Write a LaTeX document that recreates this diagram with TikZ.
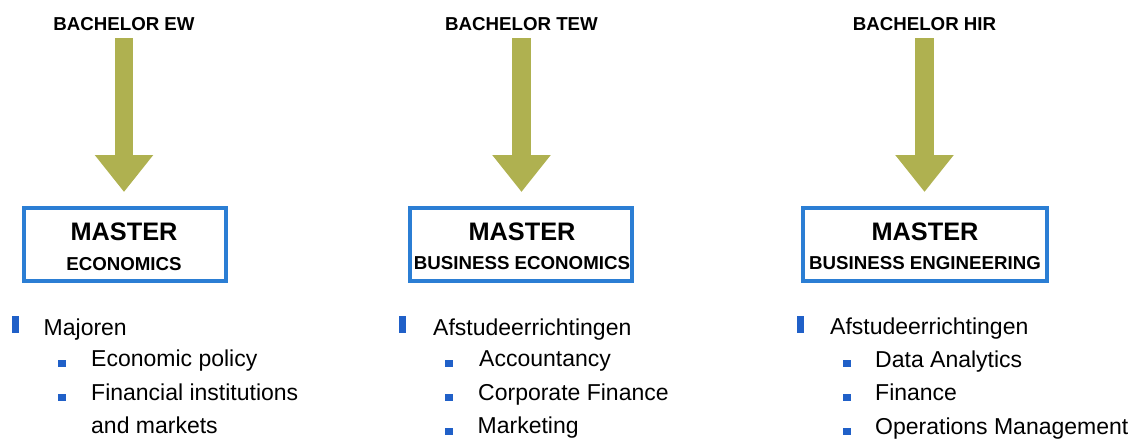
\documentclass[tikz,border=0pt]{standalone}
\usepackage{fontspec}
\setmainfont{Liberation Sans}
\usetikzlibrary{arrows.meta}
\definecolor{olivearrow}{RGB}{175,177,80}
\definecolor{boxblue}{RGB}{43,126,212}
\definecolor{bulletblue}{RGB}{32,96,200}
\begin{document}
\begin{tikzpicture}[x=1pt,y=-1pt,
  bachlabel/.style={inner sep=0pt,anchor=base,font=\fontsize{18.7}{20}\selectfont\bfseries},
  mastertitle/.style={inner sep=0pt,anchor=base,font=\fontsize{25.3}{28}\selectfont\bfseries},
  mastersub/.style={inner sep=0pt,anchor=base,font=\fontsize{18.7}{20}\selectfont\bfseries},
  masterbox/.style={draw=boxblue,line width=4pt,fill=white,minimum height=73pt,inner sep=0pt},
  bigarrow/.style={draw=olivearrow,line width=18.5pt,-{Triangle[width=56pt,length=37pt,fill=olivearrow]}},
  listtext/.style={inner sep=0pt,anchor=base west,font=\fontsize{23}{26}\selectfont},
  mainbullet/.style={fill=bulletblue,inner sep=0pt,minimum width=7pt,minimum height=17pt,anchor=north west},
  subbullet/.style={fill=bulletblue,inner sep=0pt,minimum width=7.5pt,minimum height=7pt,anchor=south west}
]
\useasboundingbox (0,0) rectangle (1147,440);

% ---------- Column 1 ----------
\node[bachlabel] (b1) at (124,30.5) {BACHELOR EW};
\node[masterbox,minimum width=202pt] (m1) at (125,244.5) {};
\draw[bigarrow] ([yshift=-7.5pt]b1.south) -- ([yshift=14pt]m1.north -| b1.south);
\node[mastertitle] (t1) at (124,240) {MASTER};
\node[mastersub] (s1) at (124,270) {ECONOMICS};

\node[mainbullet] (l1b) at (12,316) {};
\node[listtext] (l1) at (43.5,335) {Majoren};
\node[subbullet] (l1ab) at (58,367.5) {};
\node[listtext] (l1a) at (91,366) {Economic policy};
\node[subbullet] (l1bb) at (58,401.5) {};
\node[listtext] (l1bt) at (91,400) {Financial institutions};
\node[listtext] (l1c) at (91,433) {and markets};

% ---------- Column 2 ----------
\node[bachlabel] (b2) at (521.5,30.5) {BACHELOR TEW};
\node[masterbox,minimum width=222pt] (m2) at (521,244.5) {};
\draw[bigarrow] ([yshift=-7.5pt]b2.south) -- ([yshift=14pt]m2.north -| b2.south);
\node[mastertitle] (t2) at (522,240) {MASTER};
\node[mastersub] (s2) at (522,269.5) {BUSINESS ECONOMICS};

\node[mainbullet] (l2b) at (399,316) {};
\node[listtext] (l2) at (433,335) {Afstudeerrichtingen};
\node[subbullet] (l2ab) at (445,367.5) {};
\node[listtext] (l2a) at (479,366) {Accountancy};
\node[subbullet] (l2bb) at (445,401.5) {};
\node[listtext] (l2bt) at (478,400) {Corporate Finance};
\node[subbullet] (l2cb) at (445,435) {};
\node[listtext] (l2c) at (477.5,433.5) {Marketing};

% ---------- Column 3 ----------
\node[bachlabel] (b3) at (924.5,30.5) {BACHELOR HIR};
\node[masterbox,minimum width=244pt] (m3) at (925,244.5) {};
\draw[bigarrow] ([yshift=-7.5pt]b3.south) -- ([yshift=14pt]m3.north -| b3.south);
\node[mastertitle] (t3) at (925,240) {MASTER};
\node[mastersub] (s3) at (925,269.5) {BUSINESS ENGINEERING};

\node[mainbullet] (l3b) at (796.5,316) {};
\node[listtext] (l3) at (830,334) {Afstudeerrichtingen};
\node[subbullet] (l3ab) at (843,367.5) {};
\node[listtext] (l3a) at (875,367) {Data Analytics};
\node[subbullet] (l3bb) at (843,401.5) {};
\node[listtext] (l3bt) at (875,400) {Finance};
\node[subbullet] (l3cb) at (843,435) {};
\node[listtext] (l3c) at (875,434) {Operations Management};
\end{tikzpicture}
\end{document}
